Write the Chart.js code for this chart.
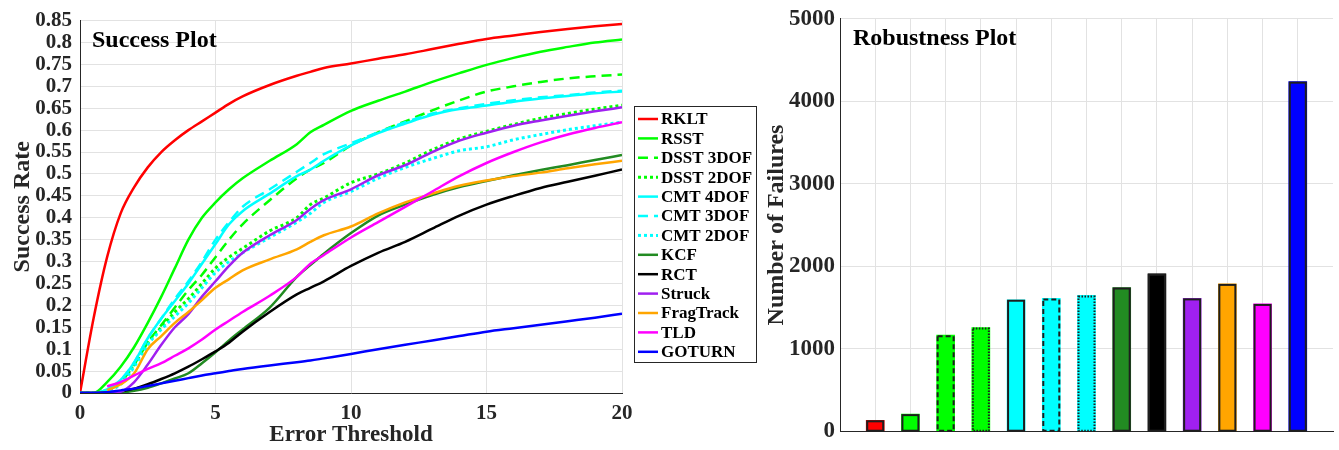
<!DOCTYPE html>
<html>
<head>
<meta charset="utf-8">
<script src="https://cdn.jsdelivr.net/npm/chart.js@4.4.1/dist/chart.umd.min.js"></script>
<style>
  html, body { margin: 0; padding: 0; background: #fff; }
  #wrap { position: relative; width: 1339px; height: 450px; }
  #successChart { position: absolute; left: 0; top: 0; }
  #robustChart { position: absolute; left: 762px; top: 0; }
</style>
</head>
<body>
<div id="wrap">
  <canvas id="successChart" width="762" height="450"></canvas>
  <canvas id="robustChart" width="577" height="450"></canvas>
</div>
<script>
// Success plot: success rate vs. error threshold
const THRESHOLDS = [0, 0.5, 1, 1.5, 2, 2.5, 3, 3.5, 4, 4.5, 5, 5.5, 6, 7, 8, 8.5, 9, 10, 11, 12, 13, 14, 15, 16, 17, 18, 19, 20];

const RKLT      = [0, 0.17, 0.31, 0.41, 0.47, 0.515, 0.55, 0.577, 0.60, 0.62, 0.64, 0.66, 0.677, 0.703, 0.724, 0.733, 0.742, 0.752, 0.763, 0.773, 0.785, 0.797, 0.808, 0.816, 0.824, 0.831, 0.837, 0.842];
const RSST      = [0, 0, 0.025, 0.06, 0.105, 0.16, 0.22, 0.285, 0.35, 0.40, 0.435, 0.465, 0.49, 0.53, 0.568, 0.595, 0.612, 0.644, 0.667, 0.688, 0.71, 0.73, 0.749, 0.765, 0.779, 0.79, 0.80, 0.807];
const DSST_3DOF = [0, 0, 0.005, 0.025, 0.065, 0.115, 0.155, 0.195, 0.235, 0.27, 0.31, 0.35, 0.385, 0.44, 0.49, 0.51, 0.525, 0.565, 0.595, 0.62, 0.645, 0.668, 0.688, 0.70, 0.71, 0.718, 0.723, 0.727];
const DSST_2DOF = [0, 0, 0.005, 0.025, 0.065, 0.115, 0.15, 0.185, 0.215, 0.25, 0.285, 0.31, 0.33, 0.37, 0.40, 0.43, 0.445, 0.48, 0.50, 0.525, 0.555, 0.58, 0.597, 0.613, 0.627, 0.638, 0.648, 0.657];
const CMT_4DOF  = [0, 0, 0.008, 0.03, 0.07, 0.125, 0.17, 0.21, 0.25, 0.295, 0.34, 0.385, 0.415, 0.455, 0.495, 0.51, 0.53, 0.565, 0.593, 0.615, 0.635, 0.648, 0.656, 0.665, 0.672, 0.678, 0.684, 0.688];
const CMT_3DOF  = [0, 0, 0.008, 0.03, 0.07, 0.125, 0.17, 0.215, 0.255, 0.30, 0.35, 0.39, 0.425, 0.465, 0.505, 0.525, 0.545, 0.57, 0.595, 0.618, 0.638, 0.65, 0.66, 0.668, 0.675, 0.68, 0.686, 0.69];
const CMT_2DOF  = [0, 0, 0.005, 0.02, 0.06, 0.11, 0.145, 0.175, 0.205, 0.24, 0.275, 0.30, 0.32, 0.355, 0.39, 0.41, 0.435, 0.46, 0.49, 0.515, 0.535, 0.553, 0.562, 0.578, 0.59, 0.601, 0.61, 0.618];
const KCF       = [0, 0, 0, 0.001, 0.005, 0.012, 0.022, 0.033, 0.045, 0.068, 0.093, 0.12, 0.145, 0.195, 0.265, 0.292, 0.318, 0.365, 0.405, 0.43, 0.452, 0.47, 0.484, 0.497, 0.509, 0.52, 0.532, 0.543];
const RCT       = [0, 0, 0.001, 0.004, 0.01, 0.02, 0.032, 0.045, 0.06, 0.077, 0.095, 0.115, 0.14, 0.185, 0.225, 0.24, 0.255, 0.29, 0.32, 0.345, 0.375, 0.405, 0.43, 0.45, 0.468, 0.482, 0.496, 0.51];
const STRUCK    = [0, 0, 0, 0.003, 0.025, 0.065, 0.11, 0.15, 0.18, 0.22, 0.255, 0.29, 0.32, 0.36, 0.395, 0.42, 0.44, 0.465, 0.497, 0.52, 0.55, 0.576, 0.594, 0.61, 0.622, 0.633, 0.643, 0.652];
const FRAGTRACK = [null, null, 0.006, 0.02, 0.045, 0.1, 0.13, 0.16, 0.185, 0.212, 0.24, 0.26, 0.28, 0.305, 0.328, 0.345, 0.36, 0.38, 0.41, 0.435, 0.455, 0.473, 0.485, 0.495, 0.503, 0.513, 0.522, 0.53];
const TLD       = [null, null, 0.015, 0.025, 0.04, 0.055, 0.068, 0.085, 0.102, 0.122, 0.145, 0.165, 0.185, 0.222, 0.265, 0.295, 0.315, 0.355, 0.39, 0.425, 0.46, 0.495, 0.525, 0.55, 0.572, 0.59, 0.605, 0.618];
const GOTURN    = [0, 0, 0.002, 0.006, 0.01, 0.016, 0.022, 0.028, 0.034, 0.04, 0.045, 0.05, 0.055, 0.063, 0.07, 0.074, 0.079, 0.089, 0.1, 0.11, 0.12, 0.13, 0.14, 0.148, 0.156, 0.164, 0.172, 0.181];

const X_TICKS_SUCCESS = [0, 5, 10, 15, 20];
const Y_TICKS_SUCCESS = [0, 0.05, 0.1, 0.15, 0.2, 0.25, 0.3, 0.35, 0.4, 0.45, 0.5, 0.55, 0.6, 0.65, 0.7, 0.75, 0.8, 0.85];

// Robustness plot: number of failures per tracker
const TRACKERS = ['RKLT', 'RSST', 'DSST 3DOF', 'DSST 2DOF', 'CMT 4DOF', 'CMT 3DOF', 'CMT 2DOF', 'KCF', 'RCT', 'Struck', 'FragTrack', 'TLD', 'GOTURN'];
const FAILURES = [132, 207, 1164, 1256, 1594, 1610, 1646, 1742, 1909, 1610, 1786, 1543, 4238];
const Y_TICKS_ROBUST = [0, 1000, 2000, 3000, 4000, 5000];

const SUCCESS_SERIES = [RKLT, RSST, DSST_3DOF, DSST_2DOF, CMT_4DOF, CMT_3DOF, CMT_2DOF, KCF, RCT, STRUCK, FRAGTRACK, TLD, GOTURN];
const COLORS = ['#ff0000', '#00ff00', '#00ff00', '#00ff00', '#00ffff', '#00ffff', '#00ffff', '#228b22', '#000000', '#a020f0', '#ffa500', '#ff00ff', '#0000ff'];
const LINE_STYLES = ['solid', 'solid', 'dashed', 'dotted', 'solid', 'dashed', 'dotted', 'solid', 'solid', 'solid', 'solid', 'solid', 'solid'];

const LINE_DASH = { solid: [], dashed: [10, 6], dotted: [3, 3] };
const BAR_DASH = { solid: [], dashed: [5, 3], dotted: [1.5, 1.5] };

const FONT = '"Liberation Serif", "Times New Roman", serif';
const TEXT = '#262626';
const GRID = '#e2e2e2';

const cornerTitle = {
  id: 'cornerTitle',
  afterDraw(chart, args, opts) {
    const { ctx, chartArea } = chart;
    ctx.save();
    ctx.font = `bold 24px ${FONT}`;
    ctx.fillStyle = '#000';
    ctx.textBaseline = 'alphabetic';
    ctx.fillText(opts.text, chartArea.left + opts.dx, chartArea.top + opts.dy);
    ctx.restore();
  },
};

// boxed legend sitting right of the success plot
const successLegend = {
  id: 'successLegend',
  afterDraw(chart) {
    const ctx = chart.ctx;
    const x0 = 634, y0 = 106, w = 122, h = 256;
    ctx.save();
    ctx.fillStyle = '#fff';
    ctx.fillRect(x0, y0, w, h);
    ctx.strokeStyle = TEXT;
    ctx.lineWidth = 1;
    ctx.strokeRect(x0 + 0.5, y0 + 0.5, w, h);
    chart.data.datasets.forEach((ds, i) => {
      const yy = y0 + 13 + i * 19.4;
      ctx.strokeStyle = ds.borderColor;
      ctx.lineWidth = ds.borderWidth;
      ctx.setLineDash(ds.borderDash);
      ctx.beginPath();
      ctx.moveTo(x0 + 4, yy);
      ctx.lineTo(x0 + 24, yy);
      ctx.stroke();
      ctx.setLineDash([]);
      ctx.fillStyle = '#000';
      ctx.font = `bold 17px ${FONT}`;
      ctx.textBaseline = 'middle';
      ctx.fillText(ds.label, x0 + 27, yy + 1);
    });
    ctx.restore();
  },
};

// bar outlines, with dashed / dotted ones for the 3DOF / 2DOF variants
const barOutlines = {
  id: 'barOutlines',
  afterDatasetsDraw(chart) {
    const ctx = chart.ctx;
    const meta = chart.getDatasetMeta(0);
    meta.data.forEach((bar, i) => {
      const { x, y, base, width } = bar.getProps(['x', 'y', 'base', 'width'], true);
      ctx.save();
      ctx.strokeStyle = '#1e1e1e';
      ctx.lineWidth = 2;
      ctx.setLineDash(BAR_DASH[LINE_STYLES[i]]);
      ctx.strokeRect(x - width / 2 + 1, y + 1, width - 2, base - y - 1);
      ctx.restore();
    });
  },
};

const tickFont = (size) => ({ family: FONT, weight: 'bold', size });

new Chart(document.getElementById('successChart'), {
  type: 'line',
  data: {
    datasets: SUCCESS_SERIES.map((values, i) => ({
      label: TRACKERS[i],
      data: values.map((v, j) => ({ x: THRESHOLDS[j], y: v })),
      borderColor: COLORS[i],
      borderWidth: LINE_STYLES[i] === 'dotted' ? 3 : 2.5,
      borderDash: LINE_DASH[LINE_STYLES[i]],
      pointRadius: 0,
      fill: false,
      cubicInterpolationMode: 'monotone',
      order: SUCCESS_SERIES.length - i,
    })),
  },
  options: {
    responsive: false,
    animation: false,
    layout: { padding: { top: 13, right: 140, left: 0, bottom: 0 } },
    scales: {
      x: {
        type: 'linear', min: 0, max: 20,
        afterBuildTicks: (s) => { s.ticks = X_TICKS_SUCCESS.map((v) => ({ value: v })); },
        afterFit: (s) => { s.height = 57; },
        ticks: { font: tickFont(21), color: TEXT, padding: 8, maxRotation: 0, autoSkip: false },
        grid: { color: GRID, drawTicks: false },
        border: { color: TEXT, width: 1 },
        title: { display: true, text: 'Error Threshold', color: TEXT, font: tickFont(23), padding: { top: 0, bottom: 1 } },
      },
      y: {
        min: 0, max: 0.85,
        afterBuildTicks: (s) => { s.ticks = Y_TICKS_SUCCESS.map((v) => ({ value: v })); },
        afterFit: (s) => { s.width = 80; },
        ticks: { font: tickFont(21), color: TEXT, padding: 8, autoSkip: false, callback: (v) => String(v) },
        grid: { color: GRID, drawTicks: false },
        border: { color: TEXT, width: 1 },
        title: { display: true, text: 'Success Rate', color: TEXT, font: tickFont(24), padding: { top: 8, bottom: 0 } },
      },
    },
    plugins: {
      legend: { display: false },
      tooltip: { enabled: false },
      cornerTitle: { text: 'Success Plot', dx: 12, dy: 26 },
    },
  },
  plugins: [cornerTitle, successLegend],
});

new Chart(document.getElementById('robustChart'), {
  type: 'bar',
  data: {
    datasets: [{
      label: 'Number of Failures',
      data: FAILURES.map((v, i) => ({ x: i + 1, y: v })),
      backgroundColor: COLORS,
      borderWidth: 0,
      barThickness: 18,
    }],
  },
  options: {
    responsive: false,
    animation: false,
    layout: { padding: { top: 14, right: 6, left: 0, bottom: 0 } },
    scales: {
      x: {
        type: 'linear', min: 0, max: TRACKERS.length + 1,
        offset: false,
        ticks: { display: false, stepSize: 1, autoSkip: false },
        afterFit: (s) => { s.height = 18; },
        grid: {
          offset: false,
          drawTicks: false,
          color: (c) => (c.tick && c.tick.value > 0 && c.tick.value <= TRACKERS.length ? GRID : 'rgba(0,0,0,0)'),
        },
        border: { color: TEXT, width: 1 },
      },
      y: {
        min: 0, max: 5000,
        afterBuildTicks: (s) => { s.ticks = Y_TICKS_ROBUST.map((v) => ({ value: v })); },
        afterFit: (s) => { s.width = 78; },
        ticks: { font: tickFont(23), color: TEXT, padding: 5, autoSkip: false, callback: (v) => String(v) },
        grid: { color: GRID, drawTicks: false },
        border: { color: TEXT, width: 1 },
        title: { display: true, text: 'Number of Failures', color: TEXT, font: tickFont(24), padding: { top: 0, bottom: 0 } },
      },
    },
    plugins: {
      legend: { display: false },
      tooltip: { enabled: false },
      cornerTitle: { text: 'Robustness Plot', dx: 13, dy: 26 },
    },
  },
  plugins: [barOutlines, cornerTitle],
});
</script>
</body>
</html>
